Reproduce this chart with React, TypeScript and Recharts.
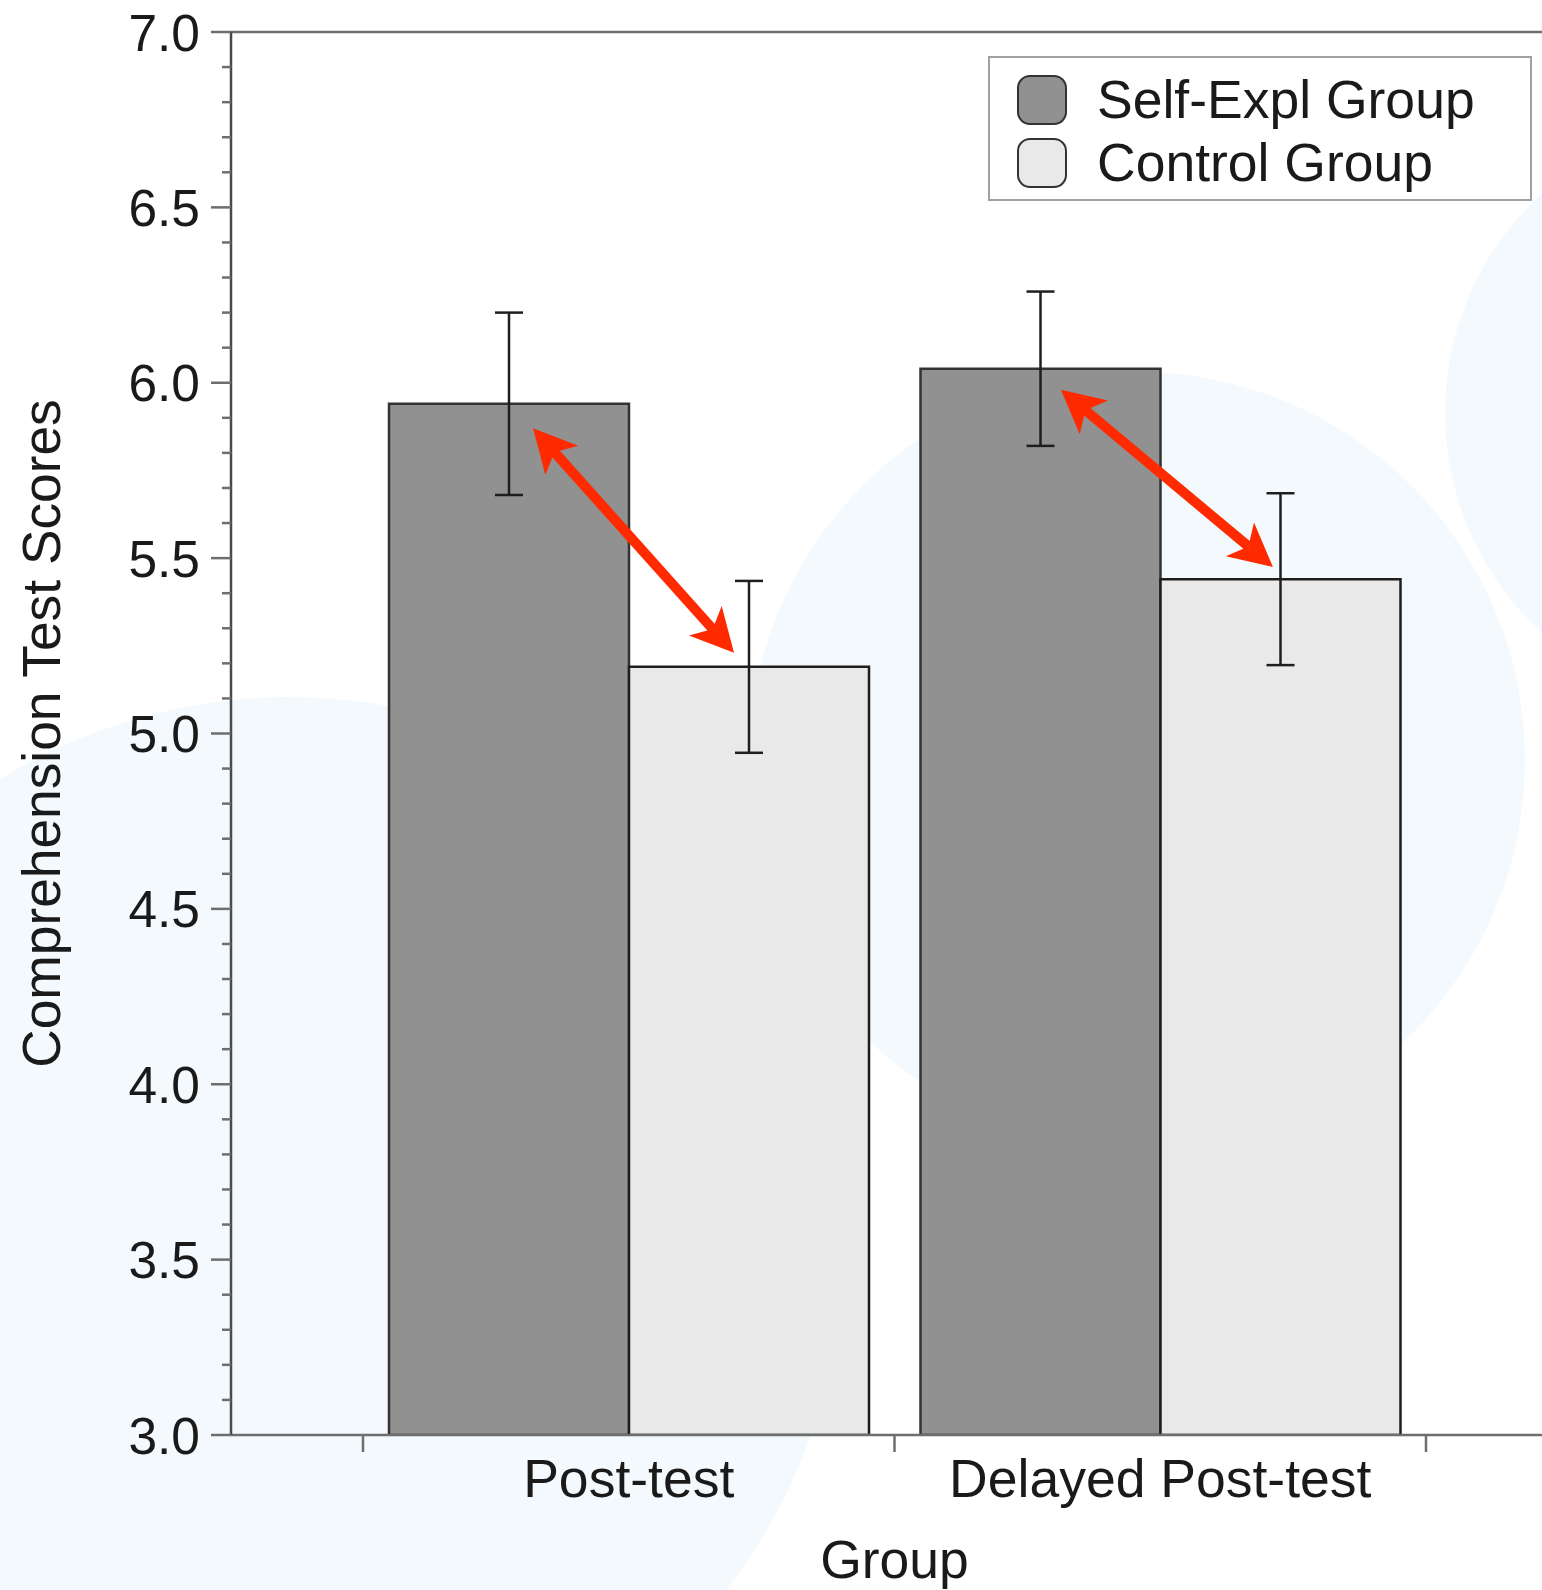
import { Bar, BarChart, ErrorBar, ReferenceLine, XAxis, YAxis } from "recharts";

const categories = ["Post-test", "Delayed Post-test"];
const categoryPos = [1, 2];
const seriesNames = ["Self-Expl Group", "Control Group"];
const seriesColors = ["#919191", "#e9e9e9"];
const selfExplMeans = [5.94, 6.04];
const selfExplErrors = [0.26, 0.22];
const controlMeans = [5.19, 5.44];
const controlErrors = [0.245, 0.245];
const majorTicks = [3.0, 3.5, 4.0, 4.5, 5.0, 5.5, 6.0, 6.5, 7.0];

// red comparison arrows: x in category units (1 = first group centre), y in score
const arrowFromPos = [0.82, 1.813];
const arrowFromScore = [5.87, 5.98];
const arrowToPos = [1.198, 2.212];
const arrowToScore = [5.23, 5.475];

const W = 1542;
const H = 1590;
const AXIS_W = 231;
const AXIS_H = 155;
const TOP = 32;
const PAD_L = 132;
const PAD_R = 116;
const BAND = (W - AXIS_W - PAD_L - PAD_R) / categories.length;
const FONT = "'Liberation Sans', Arial, Helvetica, sans-serif";
const TEXT = "#1a1a1a";
const AXIS = "#6e6e6e";

const chartData = categories.map((group, i) => ({
  group,
  pos: categoryPos[i],
  selfExpl: selfExplMeans[i],
  selfExplErr: selfExplErrors[i],
  control: controlMeans[i],
  controlErr: controlErrors[i],
}));

// minor ticks every 0.1 between the labelled ones
const allTicks: number[] = [];
for (let i = 0; i < majorTicks.length - 1; i++) {
  const step = (majorTicks[i + 1] - majorTicks[i]) / 5;
  for (let k = 0; k < 5; k++) allTicks.push(+(majorTicks[i] + k * step).toFixed(2));
}
allTicks.push(majorTicks[majorTicks.length - 1]);

const YTick = (props: any) => {
  const { x, y, payload } = props;
  const v = payload.value as number;
  const major = majorTicks.some((m) => Math.abs(m - v) < 1e-6);
  const axisX = x + 31;
  return (
    <g>
      <line x1={axisX - (major ? 20 : 9)} y1={y} x2={axisX} y2={y} stroke={AXIS} strokeWidth={2.5} />
      {major && (
        <text x={x} y={y} dy="0.36em" textAnchor="end" fontSize={51.5} fontFamily={FONT} fill={TEXT}>
          {v.toFixed(1)}
        </text>
      )}
    </g>
  );
};

const XTick = (props: any) => {
  const { x, y, payload, index } = props;
  const axisY = y - 24;
  const half = BAND / 2;
  return (
    <g>
      <line x1={x - half} y1={axisY} x2={x - half} y2={axisY + 17} stroke={AXIS} strokeWidth={2.5} />
      {index === categories.length - 1 && (
        <line x1={x + half} y1={axisY} x2={x + half} y2={axisY + 17} stroke={AXIS} strokeWidth={2.5} />
      )}
      <text x={x} y={y} dy="0.71em" textAnchor="middle" fontSize={53.5} fontFamily={FONT} fill={TEXT}>
        {payload.value}
      </text>
    </g>
  );
};

const ArrowShape = (props: any) => {
  const { x1, y1, x2, y2 } = props;
  if ([x1, y1, x2, y2].some((n) => typeof n !== "number" || isNaN(n))) return <g />;
  const dx = x2 - x1;
  const dy = y2 - y1;
  const len = Math.hypot(dx, dy);
  const ux = dx / len;
  const uy = dy / len;
  const nx = -uy;
  const ny = ux;
  const headLen = 43;
  const notch = 32;
  const halfW = 22;
  const head = (tx: number, ty: number, d: number) => {
    const bx = tx + d * ux * headLen;
    const by = ty + d * uy * headLen;
    const mx = tx + d * ux * notch;
    const my = ty + d * uy * notch;
    return `M${tx},${ty} L${bx + nx * halfW},${by + ny * halfW} L${mx},${my} L${bx - nx * halfW},${by - ny * halfW} Z`;
  };
  return (
    <g>
      <line
        x1={x1 + ux * notch}
        y1={y1 + uy * notch}
        x2={x2 - ux * notch}
        y2={y2 - uy * notch}
        stroke="#ff2a00"
        strokeWidth={10}
      />
      <path d={head(x1, y1, 1)} fill="#ff2a00" />
      <path d={head(x2, y2, -1)} fill="#ff2a00" />
    </g>
  );
};

const circles = [
  { cx: 290, cy: 1250, r: 553 },
  { cx: 1137, cy: 760, r: 388 },
  { cx: 1742, cy: 413, r: 297 },
];

export default function App() {
  return (
    <div
      style={{
        position: "absolute",
        left: 0,
        top: 0,
        width: W,
        height: H,
        overflow: "hidden",
        background: "#ffffff",
      }}
    >
      {circles.map((c, i) => (
        <div
          key={i}
          style={{
            position: "absolute",
            left: c.cx - c.r,
            top: c.cy - c.r,
            width: c.r * 2,
            height: c.r * 2,
            borderRadius: "50%",
            background: "#f3f9fd",
          }}
        />
      ))}
      <div style={{ position: "absolute", left: 0, top: 0 }}>
        <BarChart
          width={W}
          height={H}
          data={chartData}
          margin={{ top: TOP, right: 0, bottom: 0, left: 0 }}
          barGap={0}
        >
          <XAxis
            dataKey="group"
            height={AXIS_H}
            padding={{ left: PAD_L, right: PAD_R }}
            axisLine={{ stroke: AXIS, strokeWidth: 2.5 }}
            tickLine={false}
            tickSize={17}
            tickMargin={7}
            tick={<XTick />}
            interval={0}
            label={{
              content: (p: any) => {
                const vb = p.viewBox || { x: AXIS_W, y: H - AXIS_H };
                return (
                  <text
                    x={vb.x + PAD_L + BAND}
                    y={vb.y + 143}
                    textAnchor="middle"
                    fontSize={53.5}
                    fontFamily={FONT}
                    fill={TEXT}
                  >
                    Group
                  </text>
                );
              },
            }}
          />
          <XAxis
            xAxisId="pos"
            dataKey="pos"
            type="number"
            domain={[0.5, 2.5]}
            padding={{ left: PAD_L, right: PAD_R }}
            allowDataOverflow
            hide
          />
          <YAxis
            width={AXIS_W}
            domain={[3, 7]}
            ticks={allTicks}
            interval={0}
            allowDataOverflow
            axisLine={{ stroke: "#4a4a4a", strokeWidth: 2.5 }}
            tickLine={false}
            tickSize={20}
            tickMargin={11}
            tick={<YTick />}
            label={{
              content: (p: any) => {
                const vb = p.viewBox || { x: 0, y: TOP, height: H - AXIS_H - TOP };
                const cy = vb.y + vb.height / 2;
                return (
                  <text
                    x={vb.x + 41}
                    y={cy}
                    transform={`rotate(-90 ${vb.x + 41} ${cy})`}
                    dy="0.36em"
                    textAnchor="middle"
                    fontSize={53.3}
                    fontFamily={FONT}
                    fill={TEXT}
                  >
                    Comprehension Test Scores
                  </text>
                );
              },
            }}
          />
          <ReferenceLine y={7} stroke={AXIS} strokeWidth={2.5} ifOverflow="visible" />
          <Bar
            dataKey="selfExpl"
            name={seriesNames[0]}
            fill={seriesColors[0]}
            stroke="#333333"
            strokeWidth={2.5}
            barSize={240}
            isAnimationActive={false}
          >
            <ErrorBar dataKey="selfExplErr" width={14} stroke="#1e1e1e" strokeWidth={2.5} />
          </Bar>
          <Bar
            dataKey="control"
            name={seriesNames[1]}
            fill={seriesColors[1]}
            stroke="#1e1e1e"
            strokeWidth={2.5}
            barSize={240}
            isAnimationActive={false}
          >
            <ErrorBar dataKey="controlErr" width={14} stroke="#1e1e1e" strokeWidth={2.5} />
          </Bar>
          {arrowFromPos.map((fx, i) => (
            <ReferenceLine
              key={i}
              xAxisId="pos"
              segment={[
                { x: fx, y: arrowFromScore[i] },
                { x: arrowToPos[i], y: arrowToScore[i] },
              ]}
              shape={(p: any) => <ArrowShape {...p} />}
              ifOverflow="visible"
            />
          ))}
        </BarChart>
      </div>
      <div
        style={{
          position: "absolute",
          left: 988,
          top: 56,
          width: 544,
          height: 145,
          boxSizing: "border-box",
          border: "2px solid #a0a0a0",
          background: "#ffffff",
          fontFamily: FONT,
        }}
      >
        {seriesNames.map((name, i) => (
          <div
            key={name}
            style={{
              position: "absolute",
              left: 27,
              top: 17 + i * 63,
              height: 50,
              display: "flex",
              alignItems: "center",
              whiteSpace: "nowrap",
            }}
          >
            <div
              style={{
                width: 50,
                height: 50,
                boxSizing: "border-box",
                borderRadius: 13,
                border: "2.5px solid #333",
                background: seriesColors[i],
                marginRight: 30,
              }}
            />
            <span style={{ fontSize: 53.5, color: TEXT, lineHeight: "50px" }}>{name}</span>
          </div>
        ))}
      </div>
    </div>
  );
}
